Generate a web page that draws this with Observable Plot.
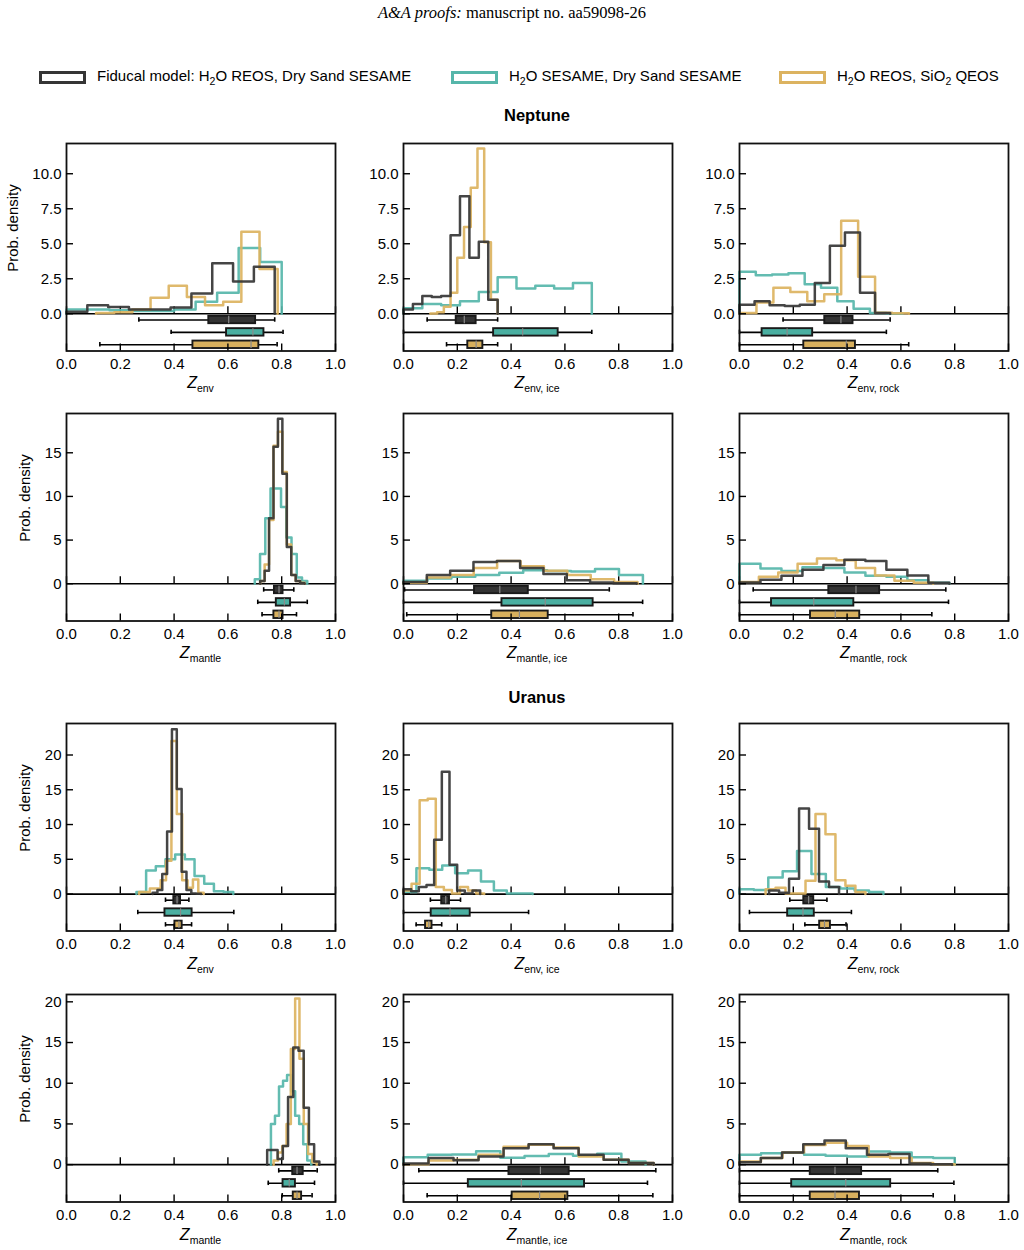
<!DOCTYPE html>
<html><head><meta charset="utf-8">
<script src="https://cdn.jsdelivr.net/npm/d3@7"></script>
<script src="https://cdn.jsdelivr.net/npm/@observablehq/plot@0.6"></script>
<style>
body{margin:0;background:#fff;font-family:"Liberation Sans",Arial,sans-serif;color:#000;}
#root{position:relative;width:1024px;height:1250px;overflow:hidden;}
.abs{position:absolute;white-space:nowrap;}
.sub{font-size:10.5px;position:relative;top:4px;}
.lsub{font-size:10.5px;position:relative;top:4px;}
</style></head><body><div id="root"></div>
<script>
// ---------- series / labels ----------
const seriesNames = ["Fiducal model: H<span class='lsub'>2</span>O REOS, Dry Sand SESAME", "H<span class='lsub'>2</span>O SESAME, Dry Sand SESAME", "H<span class='lsub'>2</span>O REOS, SiO<span class='lsub'>2</span> QEOS"];
const lineColors = ["#353535", "#56b6aa", "#dcb360"];
const boxColors = ["#333333", "#4aafa1", "#d8b05e"];
const planets = ["Neptune", "Uranus"];
const quantities = ["env", "env, ice", "env, rock", "mantle", "mantle, ice", "mantle, rock"];
const xTicks = [0, 0.2, 0.4, 0.6, 0.8, 1.0];
const rowYTicks = [[0, 2.5, 5, 7.5, 10], [0, 5, 10, 15], [0, 5, 10, 15, 20], [0, 5, 10, 15, 20]];
const rowYFormat = [".1f", "d", "d", "d"];
const rowYMax = [12.16, 19.5, 24.53, 20.9];
const rowYMin = [-2.66, -4.27, -5.31, -4.59];

// ---------- Neptune Z_env ----------
const nepEnvRange = [[0, 0.774], [0, 0.80], [0.11, 0.785]];
const nepEnvHeights = [[0.15, 0.6, 0.48, 0.3, 0.3, 0.45, 1.45, 3.6, 2.3, 3.35], [0.3, 0.3, 0.25, 0.2, 0.2, 0.3, 0.85, 1.5, 4.7, 3.7], [0.05, 0.1, 0.3, 1.15, 2.0, 1.2, 0.6, 0.85, 5.85, 3.2]];
const nepEnvBoxes = [[0.269, 0.529, 0.603, 0.703, 0.774], [0.389, 0.595, 0.693, 0.734, 0.805], [0.124, 0.47, 0.686, 0.715, 0.783]];
// ---------- Neptune Z_env,ice ----------
const nepEnvIceRange = [[0, 0.35], [0, 0.70], [0.10, 0.35]];
const nepEnvIceHeights = [[0.3, 0.7, 1.26, 1.2, 1.26, 5.6, 8.4, 4.0, 5.15, 1.0], [0.4, 0.7, 0.6, 0.9, 1.55, 2.6, 1.8, 2.0, 1.8, 2.2], [0.02, 0.1, 0.5, 1.5, 4.0, 6.2, 9.0, 11.8, 5.1, 1.0]];
const nepEnvIceBoxes = [[0.088, 0.196, 0.226, 0.27, 0.35], [0, 0.335, 0.443, 0.575, 0.70], [0.16, 0.239, 0.27, 0.295, 0.35]];
// ---------- Neptune Z_env,rock ----------
const nepEnvRockRange = [[0, 0.56], [0, 0.606], [0, 0.63]];
const nepEnvRockHeights = [[0.65, 0.9, 0.6, 0.55, 0.65, 2.2, 4.85, 5.8, 1.5, 0.05], [3.0, 2.75, 2.8, 2.9, 2.1, 1.85, 0.9, 0.35, 0.05, 0.02], [0.05, 0.8, 1.85, 1.55, 0.9, 1.4, 6.65, 2.65, 0.07, 0.03]];
const nepEnvRockBoxes = [[0.162, 0.317, 0.377, 0.422, 0.56], [0, 0.084, 0.177, 0.272, 0.546], [0, 0.239, 0.397, 0.431, 0.629]];
// ---------- Neptune Z_mantle ----------
const nepMantleRange = [[0.72, 0.885], [0.70, 0.895], [0.72, 0.885]];
const nepMantleHeights = [[0.3, 1.5, 7.5, 15.7, 18.9, 12.6, 4.2, 1.0, 0.3, 0.05], [0.5, 3.4, 7.5, 10.9, 10.9, 8.8, 5.3, 3.4, 0.7, 0.3], [0.3, 2.2, 7.3, 15.8, 17.4, 12.8, 4.5, 1.0, 0.3, 0.1]];
const nepMantleBoxes = [[0.733, 0.773, 0.79, 0.805, 0.845], [0.711, 0.78, 0.81, 0.833, 0.895], [0.727, 0.771, 0.79, 0.805, 0.855]];
// ---------- Neptune Z_mantle,ice ----------
const nepMantleIceRange = [[0, 0.867], [0, 0.89], [0, 0.87]];
const nepMantleIceHeights = [[0.2, 1.0, 1.5, 2.5, 2.6, 1.8, 1.1, 0.4, 0.15, 0.05], [0.35, 0.6, 0.8, 1.0, 1.25, 1.55, 1.45, 1.4, 1.7, 1.0], [0.1, 0.7, 1.0, 1.8, 2.6, 2.0, 1.5, 1.0, 0.5, 0.2]];
const nepMantleIceBoxes = [[0.004, 0.264, 0.358, 0.464, 0.765], [0, 0.366, 0.527, 0.705, 0.889], [0.012, 0.328, 0.431, 0.538, 0.853]];
// ---------- Neptune Z_mantle,rock ----------
const nepMantleRockRange = [[0, 0.78], [0, 0.78], [0, 0.72]];
const nepMantleRockHeights = [[0.15, 0.45, 0.9, 1.6, 2.15, 2.75, 2.6, 1.6, 0.95, 0.1], [2.3, 1.75, 1.45, 1.9, 1.8, 1.3, 0.9, 0.8, 0.4, 0.1], [0.2, 0.8, 1.3, 2.3, 2.9, 2.7, 1.8, 0.95, 0.35, 0.1]];
const nepMantleRockBoxes = [[0.051, 0.332, 0.433, 0.521, 0.767], [0, 0.119, 0.276, 0.425, 0.777], [0, 0.264, 0.356, 0.447, 0.715]];
// ---------- Uranus Z_env ----------
const uraEnvRange = [[0.32, 0.50], [0.26, 0.62], [0.27, 0.51]];
const uraEnvHeights = [[0.2, 0.6, 2.9, 9.0, 23.7, 15.1, 3.2, 0.6, 0.1, 0.05], [0.3, 3.4, 4.0, 5.0, 5.7, 5.0, 2.6, 1.5, 0.4, 0.3], [0.3, 0.3, 0.8, 0.8, 2.0, 4.8, 22, 11.5, 2.0, 0.9, 2.1, 0.2]];
const uraEnvBoxes = [[0.368, 0.399, 0.411, 0.424, 0.455], [0.265, 0.366, 0.424, 0.467, 0.622], [0.368, 0.403, 0.418, 0.43, 0.465]];
// ---------- Uranus Z_env,ice ----------
const uraEnvIceRange = [[0, 0.285], [0, 0.48], [0, 0.30]];
const uraEnvIceHeights = [[0.7, 0.4, 1.0, 1.3, 7.8, 17.6, 4.2, 0.5, 0.1, 0.5], [0.3, 3.7, 3.5, 4.1, 3.0, 3.4, 1.8, 0.5, 0.1, 0.1], [0.5, 1.5, 13.5, 13.7, 1.0, 0.6, 0.1, 1.0, 0.5, 0.1]];
const uraEnvIceBoxes = [[0.1, 0.142, 0.157, 0.171, 0.212], [0, 0.103, 0.173, 0.248, 0.465], [0.047, 0.082, 0.094, 0.106, 0.142]];
// ---------- Uranus Z_env,rock ----------
const uraEnvRockRange = [[0.11, 0.37], [0, 0.535], [0.097, 0.468]];
const uraEnvRockHeights = [[0.5, 0.2, 2.2, 12.3, 9.4, 1.8, 1.0], [0.7, 0.6, 2.4, 3.3, 6.2, 2.9, 1.0, 0.8, 0.5, 0.3], [0.7, 0.9, 0.1, 0.1, 1.9, 11.5, 8.6, 2.0, 1.2, 0.3]];
const uraEnvRockBoxes = [[0.187, 0.239, 0.257, 0.276, 0.325], [0.037, 0.179, 0.236, 0.278, 0.416], [0.243, 0.298, 0.316, 0.338, 0.396]];
// ---------- Uranus Z_mantle ----------
const uraMantleRange = [[0.746, 0.94], [0.76, 0.91], [0.77, 0.93]];
const uraMantleHeights = [[1.8, 1.8, 0.7, 2.3, 8.3, 14.4, 14.0, 7.0, 2.5, 0.4], [5.0, 6.0, 9.6, 10.3, 11.0, 9.0, 6.0, 5.0, 2.5, 0.5], [0.5, 1.5, 2.3, 5.0, 14.2, 20.4, 13.0, 5.0, 1.3, 0.3]];
const uraMantleBoxes = [[0.789, 0.841, 0.857, 0.88, 0.932], [0.75, 0.805, 0.828, 0.851, 0.922], [0.802, 0.843, 0.857, 0.874, 0.913]];
// ---------- Uranus Z_mantle,ice ----------
const uraMantleIceRange = [[0, 0.93], [0, 0.90], [0, 0.93]];
const uraMantleIceHeights = [[0.15, 0.8, 0.55, 1.0, 2.0, 2.5, 2.0, 1.2, 0.6, 0.2], [0.9, 1.2, 1.25, 1.65, 0.85, 1.05, 1.3, 1.1, 1.35, 0.4], [0.05, 0.5, 0.6, 1.2, 2.2, 2.45, 2.1, 1.0, 0.6, 0.2]];
const uraMantleIceBoxes = [[0.057, 0.392, 0.509, 0.616, 0.938], [0, 0.241, 0.438, 0.673, 0.907], [0.088, 0.404, 0.506, 0.611, 0.927]];
// ---------- Uranus Z_mantle,rock ----------
const uraMantleRockRange = [[0, 0.79], [0, 0.80], [0, 0.80]];
const uraMantleRockHeights = [[0.3, 0.8, 1.5, 2.5, 2.95, 2.0, 1.2, 1.3, 0.15, 0.05], [1.2, 1.4, 1.45, 1.2, 1.1, 1.0, 1.6, 1.5, 0.9, 0.8], [0.4, 0.8, 1.5, 2.4, 2.7, 2.3, 1.0, 0.8, 0.2, 0.05]];
const uraMantleRockBoxes = [[0, 0.263, 0.355, 0.454, 0.737], [0, 0.194, 0.395, 0.562, 0.797], [0, 0.263, 0.355, 0.446, 0.72]];

// ---------- layout ----------
const W = 269, FH = 207.5, ML = 60, MR = 12, MT = 6, MB = 42;
const colLefts = [66, 402.5, 739];
const rowTops = [142.5, 412.5, 723, 994];
const root = document.getElementById("root");

function addDiv(html, style) {
  const d = document.createElement("div");
  d.className = "abs";
  d.innerHTML = html;
  Object.assign(d.style, style);
  root.appendChild(d);
  return d;
}

function drawPanel(row, col, ranges, heights, boxes, qIndex) {
  const yMax = rowYMax[row], yMin = rowYMin[row];
  const pxPerUnit = FH / (yMax - yMin);
  const marks = [];
  marks.push(Plot.ruleY([0], {stroke: "black", strokeWidth: 1.7}));
  marks.push(Plot.ruleX(xTicks, {x: d => d, y1: 0, y2: 7 / pxPerUnit, stroke: "black", strokeWidth: 1.4}));
  [1, 2, 0].forEach(s => {
    const [lo, hi] = ranges[s];
    const h = heights[s];
    const n = h.length;
    const edges = d3.range(n + 1).map(i => lo + (hi - lo) * i / n);
    const pts = [{x: edges[0], y: 0}, ...h.map((v, i) => ({x: edges[i], y: v})), {x: edges[n], y: 0}];
    marks.push(Plot.line(pts, {x: "x", y: "y", curve: "step-after", stroke: lineColors[s], strokeWidth: 2.5, strokeOpacity: 0.92}));
  });
  const bd = boxes.map((b, k) => ({k, c: yMin * (2 * k + 1) / 6, wlo: b[0], q1: b[1], med: b[2], q3: b[3], whi: b[4]}));
  const hh = -yMin * 0.1, ch = -yMin * 0.06;
  const caps = bd.flatMap(d => [{x: d.wlo, c: d.c}, {x: d.whi, c: d.c}]);
  marks.push(Plot.ruleY(bd, {y: "c", x1: "wlo", x2: "whi", stroke: "black", strokeWidth: 1.6}));
  marks.push(Plot.ruleX(caps, {x: "x", y1: d => d.c - ch, y2: d => d.c + ch, stroke: "black", strokeWidth: 1.6}));
  marks.push(Plot.rect(bd, {x1: "q1", x2: "q3", y1: d => d.c - hh, y2: d => d.c + hh, fill: d => boxColors[d.k], stroke: "#1a1a1a", strokeWidth: 1.9}));
  marks.push(Plot.ruleX(bd, {x: "med", y1: d => d.c - hh, y2: d => d.c + hh, stroke: "#8a8a8a", strokeWidth: 1.2}));
  marks.push(Plot.frame({stroke: "#111", strokeWidth: 1.8}));
  marks.push(Plot.axisX({ticks: xTicks, tickFormat: d3.format(".1f"), tickSize: -7, tickPadding: 14, label: null, strokeWidth: 1.4}));
  marks.push(Plot.axisY({ticks: rowYTicks[row], tickFormat: d3.format(rowYFormat[row]), tickSize: -7, tickPadding: 12, label: null, strokeWidth: 1.4}));
  const svg = Plot.plot({
    width: ML + W + MR, height: MT + FH + MB,
    marginLeft: ML, marginRight: MR, marginTop: MT, marginBottom: MB,
    x: {domain: [0, 1]}, y: {domain: [yMin, yMax]},
    color: {type: "identity"},
    style: {fontSize: "15px", fontFamily: "'Liberation Sans', Arial, sans-serif", color: "black", background: "transparent", overflow: "visible"},
    marks
  });
  svg.style.position = "absolute";
  svg.style.left = (colLefts[col] - ML) + "px";
  svg.style.top = (rowTops[row] - MT) + "px";
  root.appendChild(svg);
  // x label
  const xc = colLefts[col] + W / 2;
  const yb = rowTops[row] + FH + 33;
  addDiv(`<span style="font-style:italic;font-size:16px">Z</span><span class="sub">${quantities[qIndex]}</span>`, {top: (yb - 10) + "px", left: xc + "px", transform: "translateX(-50%)", fontSize: "15px", lineHeight: "20px"});
  // y label
  if (col === 0) {
    const upperC = rowTops[row] + yMax * pxPerUnit / 2;
    const lx = row === 0 ? 13 : 25;
    addDiv("Prob. density", {left: lx + "px", top: upperC + "px", transform: "translate(-50%,-50%) rotate(-90deg)", fontSize: "15px", lineHeight: "18px"});
  }
}

// header
addDiv(`<i>A&amp;A proofs:</i> manuscript no. aa59098-26`, {left: "512px", top: "3px", transform: "translateX(-50%)", fontFamily: "'Liberation Serif', 'Times New Roman', serif", fontSize: "16.5px"});
// legend
const legendX = [39, 451, 779];
seriesNames.forEach((name, i) => {
  addDiv("", {left: legendX[i] + "px", top: "70.5px", width: "41px", height: "7px", border: `3px solid ${lineColors[i]}`});
  addDiv(name, {left: (legendX[i] + 58) + "px", top: "67px", fontSize: "15px", lineHeight: "18px"});
});
addDiv(planets[0], {left: "537px", top: "106px", transform: "translateX(-50%)", fontWeight: "bold", fontSize: "16.5px"});
addDiv(planets[1], {left: "537px", top: "688px", transform: "translateX(-50%)", fontWeight: "bold", fontSize: "16.5px"});

drawPanel(0, 0, nepEnvRange, nepEnvHeights, nepEnvBoxes, 0);
drawPanel(0, 1, nepEnvIceRange, nepEnvIceHeights, nepEnvIceBoxes, 1);
drawPanel(0, 2, nepEnvRockRange, nepEnvRockHeights, nepEnvRockBoxes, 2);
drawPanel(1, 0, nepMantleRange, nepMantleHeights, nepMantleBoxes, 3);
drawPanel(1, 1, nepMantleIceRange, nepMantleIceHeights, nepMantleIceBoxes, 4);
drawPanel(1, 2, nepMantleRockRange, nepMantleRockHeights, nepMantleRockBoxes, 5);
drawPanel(2, 0, uraEnvRange, uraEnvHeights, uraEnvBoxes, 0);
drawPanel(2, 1, uraEnvIceRange, uraEnvIceHeights, uraEnvIceBoxes, 1);
drawPanel(2, 2, uraEnvRockRange, uraEnvRockHeights, uraEnvRockBoxes, 2);
drawPanel(3, 0, uraMantleRange, uraMantleHeights, uraMantleBoxes, 3);
drawPanel(3, 1, uraMantleIceRange, uraMantleIceHeights, uraMantleIceBoxes, 4);
drawPanel(3, 2, uraMantleRockRange, uraMantleRockHeights, uraMantleRockBoxes, 5);
</script></body></html>
